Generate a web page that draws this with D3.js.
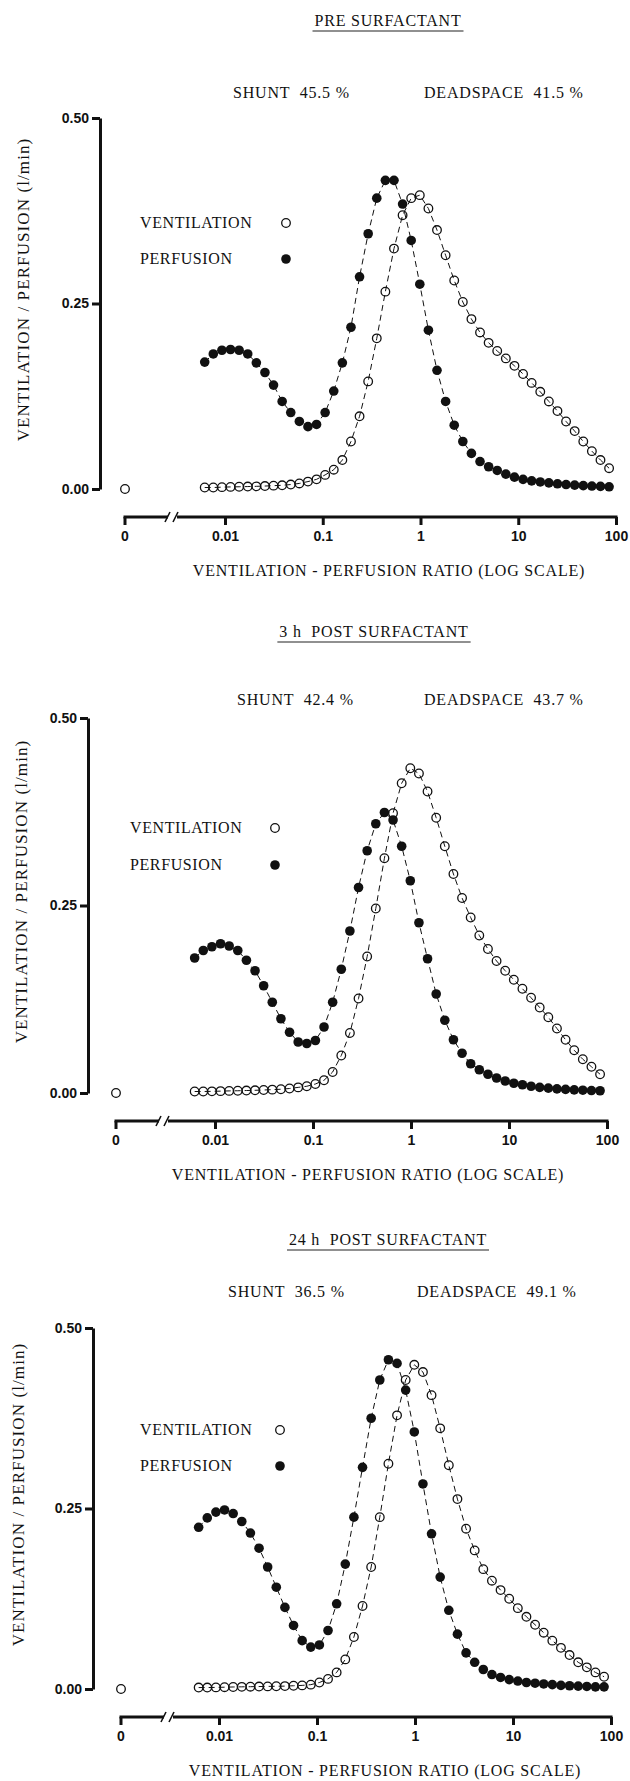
<!DOCTYPE html>
<html>
<head>
<meta charset="utf-8">
<script src="https://cdn.jsdelivr.net/npm/d3@7"></script>
<style>
body { margin: 0; background: #fff; }
svg text { font-family: "Liberation Serif", "Times New Roman", serif; fill: #111; }
.tick text { font-family: "Liberation Sans", Arial, sans-serif; font-weight: bold; font-size: 14px; letter-spacing: 0; }
</style>
</head>
<body>
<svg id="chart" width="630" height="1781"></svg>
<script>
// V/Q compartments (log scale), same for all three panels
const vqRatio = [0.0062, 0.00759, 0.0093, 0.01139, 0.01395, 0.01708, 0.02092, 0.02562, 0.03137, 0.03842,
  0.04706, 0.05763, 0.07058, 0.08643, 0.1058, 0.1296, 0.1587, 0.1944, 0.238, 0.2915,
  0.357, 0.4372, 0.5355, 0.6558, 0.8031, 0.9837, 1.205, 1.475, 1.807, 2.213,
  2.71, 3.319, 4.064, 4.977, 6.095, 7.466, 9.144, 11.2, 13.71, 16.8,
  20.57, 25.19, 30.85, 37.78, 46.27, 56.66, 69.39, 84.98];

// PRE SURFACTANT
const pre_vent = [0.002, 0.002, 0.0025, 0.0028, 0.003, 0.0033, 0.0036, 0.004, 0.0045, 0.005,
  0.006, 0.0075, 0.010, 0.013, 0.019, 0.026, 0.039, 0.064, 0.098, 0.145,
  0.203, 0.266, 0.324, 0.369, 0.392, 0.396, 0.378, 0.349, 0.315, 0.281,
  0.252, 0.229, 0.211, 0.197, 0.186, 0.176, 0.166, 0.155, 0.143, 0.131,
  0.118, 0.105, 0.091, 0.078, 0.064, 0.051, 0.039, 0.028];
const pre_perf = [0.171, 0.182, 0.187, 0.188, 0.187, 0.182, 0.170, 0.157, 0.140, 0.118,
  0.103, 0.091, 0.084, 0.087, 0.103, 0.132, 0.170, 0.218, 0.286, 0.344,
  0.392, 0.416, 0.416, 0.384, 0.335, 0.276, 0.214, 0.160, 0.118, 0.086,
  0.064, 0.048, 0.037, 0.030, 0.025, 0.020, 0.016, 0.013, 0.011, 0.0095,
  0.0082, 0.007, 0.006, 0.0052, 0.0045, 0.004, 0.0035, 0.003];

// 3 h POST SURFACTANT
const h3_vent = [0.002, 0.002, 0.0022, 0.0025, 0.0028, 0.003, 0.0033, 0.0036, 0.004, 0.0045,
  0.005, 0.006, 0.0075, 0.009, 0.012, 0.017, 0.028, 0.050, 0.080, 0.126,
  0.182, 0.246, 0.313, 0.373, 0.413, 0.433, 0.426, 0.402, 0.367, 0.329,
  0.292, 0.260, 0.234, 0.210, 0.192, 0.176, 0.163, 0.151, 0.139, 0.127,
  0.114, 0.101, 0.086, 0.071, 0.057, 0.045, 0.035, 0.025];
const h3_perf = [0.180, 0.190, 0.195, 0.199, 0.196, 0.190, 0.177, 0.163, 0.143, 0.121,
  0.099, 0.081, 0.068, 0.066, 0.070, 0.088, 0.121, 0.165, 0.216, 0.274,
  0.323, 0.359, 0.374, 0.364, 0.329, 0.283, 0.227, 0.179, 0.132, 0.097,
  0.071, 0.053, 0.039, 0.031, 0.025, 0.020, 0.016, 0.013, 0.011, 0.009,
  0.0075, 0.0065, 0.0055, 0.0048, 0.0042, 0.0037, 0.0033, 0.003];

// 24 h POST SURFACTANT
const h24_vent = [0.002, 0.002, 0.0022, 0.0025, 0.0028, 0.003, 0.0032, 0.0034, 0.0036, 0.0038,
  0.004, 0.0045, 0.005, 0.006, 0.009, 0.014, 0.023, 0.041, 0.072, 0.115,
  0.169, 0.238, 0.312, 0.379, 0.428, 0.449, 0.439, 0.407, 0.361, 0.310,
  0.263, 0.222, 0.192, 0.166, 0.150, 0.137, 0.125, 0.112, 0.100, 0.089,
  0.078, 0.067, 0.057, 0.047, 0.037, 0.030, 0.023, 0.017];
const h24_perf = [0.224, 0.237, 0.245, 0.248, 0.243, 0.232, 0.216, 0.195, 0.169, 0.141,
  0.113, 0.088, 0.067, 0.058, 0.061, 0.081, 0.118, 0.173, 0.238, 0.307,
  0.375, 0.428, 0.456, 0.451, 0.414, 0.356, 0.284, 0.215, 0.155, 0.109,
  0.076, 0.050, 0.037, 0.027, 0.020, 0.016, 0.013, 0.011, 0.009, 0.008,
  0.007, 0.006, 0.005, 0.0045, 0.004, 0.0035, 0.003, 0.003];

// ventilation of the shunt compartment (V/Q = 0)
const shuntVent = [0, 0, 0];

const titles = ["PRE SURFACTANT", "3 h  POST SURFACTANT", "24 h  POST SURFACTANT"];
const shuntPct = ["45.5", "42.4", "36.5"];
const deadPct = ["41.5", "43.7", "49.1"];

const yTicks = [0, 0.25, 0.5];
const xTicks = [0.01, 0.1, 1, 10, 100];
const xTickLabels = ["0.01", "0.1", "1", "10", "100"];

// page layout of each panel
const layouts = [
  {yAxisX: 100, zeroX: 125, x01: 225, x100: 616, y0: 489, y50: 118, titleX: 388, titleY: 26,
   shuntX: 233, deadX: 424, textY: 98, legX: 140, legCX: 286, legY1: 223, legY2: 259,
   yLabX: 25, xLabX: 389},
  {yAxisX: 88, zeroX: 116, x01: 215, x100: 607, y0: 1093, y50: 718, titleX: 374, titleY: 637,
   shuntX: 237, deadX: 424, textY: 705, legX: 130, legCX: 275, legY1: 828, legY2: 865,
   yLabX: 23, xLabX: 368},
  {yAxisX: 93, zeroX: 121, x01: 219, x100: 611, y0: 1689, y50: 1328, titleX: 388, titleY: 1245,
   shuntX: 228, deadX: 417, textY: 1297, legX: 140, legCX: 280, legY1: 1430, legY2: 1466,
   yLabX: 20, xLabX: 385}
];

const series = [[pre_vent, pre_perf], [h3_vent, h3_perf], [h24_vent, h24_perf]];

const svg = d3.select('#chart');

function draw_panel(L, i){
    const vent = series[i][0];
    const perf = series[i][1];
    const g = svg.append('g').attr('class', 'panel');

    const x = d3.scaleLog().domain([0.01, 100]).range([L.x01, L.x100]);
    const y = d3.scaleLinear().domain([0, 0.5]).range([L.y0, L.y50]);
    const axisY = L.y0 + 28;

    // title with underline
    const t = g.append('text')
        .attr('x', L.titleX).attr('y', L.titleY)
        .attr('text-anchor', 'middle')
        .style('font-size', '16px')
        .style('letter-spacing', '0.8px')
        .style('white-space', 'pre')
        .text(titles[i]);
    const tw = t.node().getComputedTextLength();
    g.append('line')
        .attr('x1', L.titleX - tw / 2 - 2).attr('x2', L.titleX + tw / 2 + 2)
        .attr('y1', L.titleY + 5).attr('y2', L.titleY + 5)
        .attr('stroke', '#222').attr('stroke-width', 1.2);

    g.append('text')
        .attr('x', L.shuntX).attr('y', L.textY)
        .style('font-size', '16px').style('letter-spacing', '0.8px').style('white-space', 'pre')
        .text(`SHUNT  ${shuntPct[i]} %`);
    g.append('text')
        .attr('x', L.deadX).attr('y', L.textY)
        .style('font-size', '16px').style('letter-spacing', '0.8px').style('white-space', 'pre')
        .text(`DEADSPACE  ${deadPct[i]} %`);

    // y axis
    g.append('g')
        .attr('transform', `translate(${L.yAxisX},0)`)
        .call(d3.axisLeft(y).tickValues(yTicks).tickFormat(d3.format('.2f')).tickSize(8).tickSizeOuter(0).tickPadding(3))
        .call(a => a.selectAll('path, line').attr('stroke', '#111').attr('stroke-width', 3))
        .call(a => a.selectAll('text').attr('fill', '#111'));

    g.append('text')
        .attr('transform', `translate(${L.yLabX},${(L.y0 + L.y50) / 2 - 14}) rotate(-90)`)
        .attr('text-anchor', 'middle')
        .attr('dominant-baseline', 'middle')
        .style('font-size', '17px').style('letter-spacing', '1.1px')
        .text('VENTILATION / PERFUSION (l/min)');

    // x axis with break
    const xa = g.append('g')
        .attr('transform', `translate(0,${axisY})`)
        .call(d3.axisBottom(x).tickValues(xTicks).tickFormat((d, k) => xTickLabels[k]).tickSize(8).tickPadding(6))
        .call(a => a.select('.domain').remove())
        .call(a => a.selectAll('line').attr('stroke', '#111').attr('stroke-width', 3))
        .call(a => a.selectAll('text').attr('fill', '#111'));
    // zero tick
    const z = xa.append('g').attr('class', 'tick').attr('transform', `translate(${L.zeroX},0)`);
    z.append('line').attr('y2', 8).attr('stroke', '#111').attr('stroke-width', 3);
    z.append('text').attr('y', 14).attr('dy', '0.71em').attr('text-anchor', 'middle').attr('fill', '#111').text('0');

    const bx = L.zeroX + 47;
    xa.append('path')
        .attr('d', `M${L.zeroX - 1.5},0H${bx - 4}`)
        .attr('stroke', '#111').attr('stroke-width', 3).attr('fill', 'none');
    xa.append('path')
        .attr('d', `M${bx + 5},0H${L.x100 + 1.5}`)
        .attr('stroke', '#111').attr('stroke-width', 3).attr('fill', 'none');
    xa.append('path')
        .attr('d', `M${bx - 7},5L${bx - 2},-5M${bx + 1},5L${bx + 6},-5`)
        .attr('stroke', '#111').attr('stroke-width', 1.6).attr('fill', 'none');

    g.append('text')
        .attr('x', L.xLabX).attr('y', L.y0 + 87)
        .attr('text-anchor', 'middle')
        .style('font-size', '16px').style('letter-spacing', '0.8px')
        .text('VENTILATION - PERFUSION RATIO (LOG SCALE)');

    // dashed connecting lines
    const line = d3.line()
        .x((d, k) => x(vqRatio[k]))
        .y(d => y(d));
    [perf, vent].forEach(s => {
        g.append('path')
            .datum(s)
            .attr('d', line)
            .attr('fill', 'none')
            .attr('stroke', '#111')
            .attr('stroke-width', 1)
            .attr('stroke-dasharray', '6,4');
    });

    // perfusion: filled dots
    g.selectAll('.perf')
        .data(perf)
        .enter()
        .append('circle')
        .attr('class', 'perf')
        .attr('cx', (d, k) => x(vqRatio[k]))
        .attr('cy', d => y(d))
        .attr('r', 4.8)
        .attr('fill', '#111');

    // ventilation: open circles
    g.selectAll('.vent')
        .data(vent)
        .enter()
        .append('circle')
        .attr('class', 'vent')
        .attr('cx', (d, k) => x(vqRatio[k]))
        .attr('cy', d => y(d))
        .attr('r', 4.3)
        .attr('fill', 'none')
        .attr('stroke', '#111')
        .attr('stroke-width', 1.3);

    // shunt compartment ventilation at V/Q = 0
    g.append('circle')
        .attr('cx', L.zeroX).attr('cy', y(shuntVent[i]))
        .attr('r', 4.3).attr('fill', 'none').attr('stroke', '#111').attr('stroke-width', 1.3);

    // legend
    g.append('text').attr('x', L.legX).attr('y', L.legY1 + 5)
        .style('font-size', '16px').style('letter-spacing', '0.6px').text('VENTILATION');
    g.append('text').attr('x', L.legX).attr('y', L.legY2 + 5)
        .style('font-size', '16px').style('letter-spacing', '0.6px').text('PERFUSION');
    g.append('circle').attr('cx', L.legCX).attr('cy', L.legY1).attr('r', 4.3)
        .attr('fill', 'none').attr('stroke', '#111').attr('stroke-width', 1.3);
    g.append('circle').attr('cx', L.legCX).attr('cy', L.legY2).attr('r', 4.8).attr('fill', '#111');
}

layouts.forEach(draw_panel);
</script>
</body>
</html>
